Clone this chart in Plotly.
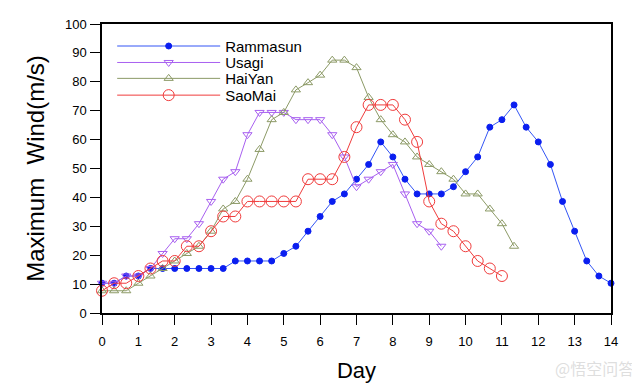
import plotly.graph_objects as go

# 8-hourly samples, x in days
step_days = 1.0 / 3.0

rammasun = [10.3, 10.3, 12.8, 12.8, 15.4, 15.4, 15.4, 15.4, 15.4, 15.4, 15.4,
            18.0, 18.0, 18.0, 18.0, 20.6, 23.1, 28.3, 33.4, 38.6, 41.2, 46.3,
            51.4, 59.2, 54.0, 46.3, 41.2, 41.2, 41.2, 43.7, 48.9, 54.0, 64.3,
            66.9, 72.0, 64.3, 59.2, 51.4, 38.6, 28.3, 18.0, 12.8, 10.3]
usagi = [10.3, 10.3, 12.8, 12.8, 15.4, 20.6, 25.7, 25.7, 30.9, 38.6, 46.3,
         48.9, 61.7, 69.4, 69.4, 69.4, 66.9, 66.9, 66.9, 61.7, 54.0, 43.7,
         46.3, 48.9, 51.4, 41.2, 30.9, 28.3, 23.1]
haiyan = [7.7, 7.7, 7.7, 10.3, 12.8, 15.4, 18.0, 20.6, 23.1, 28.3, 36.0,
          38.6, 46.3, 56.6, 66.9, 69.4, 77.2, 79.7, 82.3, 87.5, 87.5, 84.9,
          74.6, 66.9, 61.7, 59.2, 54.0, 51.4, 48.9, 46.3, 41.2, 41.2, 36.0,
          30.9, 23.1]
saomai = [7.7, 10.3, 10.3, 12.8, 15.4, 18.0, 18.0, 23.1, 23.1, 28.3, 33.4,
          33.4, 38.6, 38.6, 38.6, 38.6, 38.6, 46.3, 46.3, 46.3, 54.0, 64.3,
          72.0, 72.0, 72.0, 66.9, 59.2, 38.6, 30.9, 28.3, 23.1, 18.0, 15.4,
          12.8]

x_ticks = list(range(0, 15))
y_ticks = list(range(0, 101, 10))

def days(vals):
    return [i * step_days for i in range(len(vals))]

series = [
    ("Rammasun", rammasun, "#3355f5", "#0a1ef0", "circle", 6),
    ("Usagi", usagi, "#a860f0", "#a860f0", "triangle-down-open", 8),
    ("HaiYan", haiyan, "#8c9a66", "#8c9a66", "triangle-up-open", 8),
    ("SaoMai", saomai, "#f03c3c", "#f03c3c", "circle-open", 11),
]
legend_ids = ["legend", "legend2", "legend3", "legend4"]
legend_rows = [0.923, 0.866, 0.811, 0.753]

font_family = "Liberation Sans, Arial, Helvetica, sans-serif"

fig = go.Figure()
for (name, vals, lc, mc, sym, sz), lid in zip(series, legend_ids):
    fig.add_trace(go.Scatter(
        x=days(vals), y=vals, name=name, mode="lines+markers",
        line=dict(color=lc, width=1),
        marker=dict(color=mc, symbol=sym, size=sz, line=dict(color=mc, width=1)),
        cliponaxis=False, legend=lid,
    ))

legend_style = dict(
    x=0.02, xanchor="left", yanchor="middle",
    bgcolor="rgba(0,0,0,0)", borderwidth=0,
    font=dict(size=15, family=font_family, color="black"),
    itemwidth=103,
)
legend_layout = {}
for lid, ly in zip(legend_ids, legend_rows):
    legend_layout[lid] = dict(legend_style, y=ly)

# page body has an 8px margin, so the figure is sized to fit the 640x390 window
fig.update_layout(
    width=632, height=382,
    margin=dict(l=94, r=29, t=16, b=77),
    paper_bgcolor="white", plot_bgcolor="white",
    font=dict(family=font_family, color="black", size=13),
    showlegend=True,
    xaxis=dict(
        range=[0, 14], tickvals=x_ticks, ticks="outside", ticklen=10,
        tickwidth=1.2, tickcolor="black", showline=True, linecolor="black",
        linewidth=1.5, mirror=True, showgrid=False, zeroline=False,
        tickfont=dict(size=13), automargin=False, ticklabelstandoff=6,
        title=dict(text="Day", font=dict(size=22), standoff=14),
    ),
    yaxis=dict(
        range=[0, 100], tickvals=y_ticks, ticks="outside", ticklen=10,
        tickwidth=1.2, tickcolor="black", showline=True, linecolor="black",
        linewidth=1.5, mirror=True, showgrid=False, zeroline=False,
        tickfont=dict(size=13), automargin=False, ticklabelstandoff=1,
        title=dict(text="Maximum  Wind(m/s)", font=dict(size=24), standoff=14),
    ),
    **legend_layout,
)

fig.add_annotation(
    text="@悟空问答", xref="paper", yref="paper", x=1.05, y=-0.24,
    xanchor="right", yanchor="bottom", showarrow=False,
    font=dict(size=16, color="rgba(200,200,200,0.6)", family="Noto Sans CJK SC"),
)

fig.write_html("out.html")
